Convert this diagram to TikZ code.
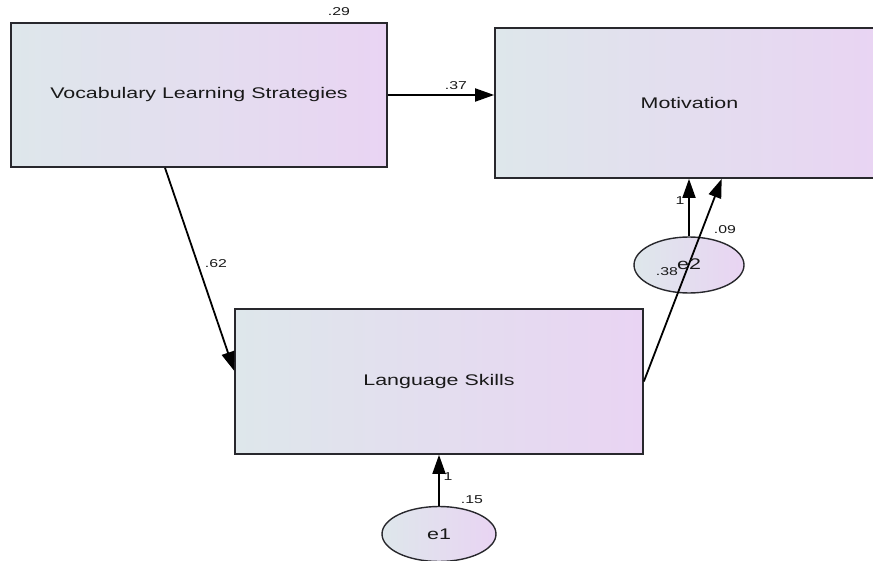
\documentclass[tikz,border=0pt]{standalone}
\usepackage{graphicx}
\usepackage{fontspec}
\setmainfont{Liberation Sans}
\usetikzlibrary{shapes, arrows.meta, positioning}
\definecolor{shadeleft}{RGB}{222,231,235}
\definecolor{shaderight}{RGB}{233,212,243}
\definecolor{rim}{RGB}{40,40,45}
\newcommand{\widetext}[1]{\scalebox{1.39}[1]{#1}}
\tikzstyle{construct} = [rectangle, draw = rim, line width = 1.7pt, left color = shadeleft, right color = shaderight, font = \fontsize{15.4}{18}\selectfont, text = black!90, inner sep = 0pt]
\tikzstyle{residual} = [ellipse, draw = rim, line width = 1.4pt, left color = shadeleft, right color = shaderight, minimum width = 114pt, minimum height = 55pt, font = \fontsize{15.4}{18}\selectfont, text = black!90, inner sep = 0pt]
\tikzstyle{coef} = [font = \fontsize{11.4}{13}\selectfont, text = black!90, inner sep = 0pt]
\tikzstyle{line2} = [draw, line width = 1.8pt, -{Triangle[length = 19pt, width = 13pt]}]

\begin{document}
\begin{tikzpicture}[x = 1pt, y = -1pt]
			\useasboundingbox (0, 0) rectangle (873, 561);
			% Place nodes
			\node [construct, minimum width = 376pt, minimum height = 144pt] (vls) at (199, 95) {\widetext{Vocabulary Learning Strategies}};
			\node [construct, minimum width = 389pt, minimum height = 150pt] (motiv) at (689.5, 103) {\widetext{Motivation}};
			\node [construct, minimum width = 408pt, minimum height = 145pt] (skills) at (439, 381.5) {\widetext{Language Skills}};
			\node [residual] (e1) at (439, 534) {\widetext{e1}};
			\node [residual, minimum width = 110pt, minimum height = 56pt] (e2) at (689, 265) {};
			% Draw edges
			\path [line2] (vls.east) -- (motiv.west |- vls.east);
			\path [line2] (vls.245) -- (skills.177);
			\path [line2] (e1.north) -- (skills.south);
			\path [line2] (e2.north) -- (e2.north |- motiv.south);
			\path [line2] (skills.east) -- (motiv.293);
			% Estimates
			\node [coef] (r2vls) at (339, 12) {\widetext{.29}};
			\node [coef] (bvm) at (456, 86) {\widetext{.37}};
			\node [coef] (bvs) at (216, 264) {\widetext{.62}};
			\node [coef] (w2) at (680, 201) {\widetext{1}};
			\node [coef] (r2mot) at (725, 230) {\widetext{.09}};
			\node [coef] (bsm) at (667, 272) {\widetext{.38}};
			\node [font = \fontsize{15.4}{18}\selectfont, text = black!90, inner sep = 0pt] (e2name) at (689, 264) {\widetext{e2}};
			\node [coef] (w1) at (448, 477) {\widetext{1}};
			\node [coef] (r2skl) at (472, 500) {\widetext{.15}};
		\end{tikzpicture}
\end{document}
